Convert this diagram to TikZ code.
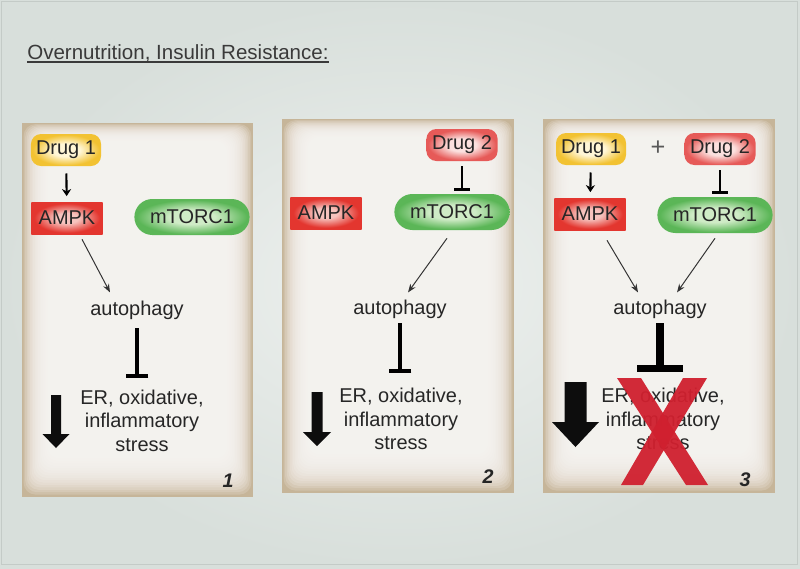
\documentclass[tikz,border=0pt]{standalone}
\usepackage{fontspec}
\setmainfont{Liberation Sans}
\usetikzlibrary{arrows.meta,calc}

\definecolor{bgLight}{HTML}{EEF1EF}
\definecolor{bgDark}{HTML}{D8DFDB}
\definecolor{bgEdge}{HTML}{C4CBC7}
\definecolor{panelCore}{HTML}{F8F7F4}
\definecolor{panelTan}{HTML}{C6B599}
\definecolor{drugYellow}{HTML}{F2C232}
\definecolor{drugYellowIn}{HTML}{FFF6D6}
\definecolor{drugRed}{HTML}{E65A58}
\definecolor{drugRedIn}{HTML}{FBE0DE}
\definecolor{ampkRed}{HTML}{E3362F}
\definecolor{ampkIn}{HTML}{F6C3BE}
\definecolor{mtorGreen}{HTML}{5BB657}
\definecolor{mtorIn}{HTML}{CFEBC6}
\definecolor{crossRed}{HTML}{D0202F}
\definecolor{titleGray}{HTML}{3A3A3A}

\pgfdeclareradialshading{drugoneglow}{\pgfpoint{0bp}{0bp}}{color(0bp)=(drugYellowIn); color(10bp)=(drugYellowIn); color(24bp)=(drugYellow); color(50bp)=(drugYellow)}
\pgfdeclareradialshading{drugtwoglow}{\pgfpoint{0bp}{0bp}}{color(0bp)=(drugRedIn); color(10bp)=(drugRedIn); color(24bp)=(drugRed); color(50bp)=(drugRed)}
\pgfdeclareradialshading{ampkglow}{\pgfpoint{0bp}{0bp}}{color(0bp)=(ampkIn); color(8bp)=(ampkIn); color(23bp)=(ampkRed); color(50bp)=(ampkRed)}
\pgfdeclareradialshading{mtorglow}{\pgfpoint{0bp}{0bp}}{color(0bp)=(mtorIn); color(10bp)=(mtorIn); color(24bp)=(mtorGreen); color(50bp)=(mtorGreen)}

\tikzset{
  box/.style={shade, text=black!85, inner sep=0pt, minimum height=0.8cm},
  drugone/.style={box, rounded corners=0.25cm, minimum width=1.75cm, shading=drugoneglow},
  drugtwo/.style={box, rounded corners=0.25cm, minimum width=1.78cm, shading=drugtwoglow},
  ampk/.style={box, minimum width=1.78cm, shading=ampkglow},
  mtor/.style={box, rounded corners=0.45cm, minimum width=2.88cm, minimum height=0.9cm, shading=mtorglow},
  proc/.style={inner sep=0pt, text=black!85},
  stress/.style={proc, align=center, anchor=north},
  panelno/.style={inner sep=0pt, text=black!85, font=\fontsize{14}{16}\selectfont\bfseries\itshape},
  drive/.style={line width=1.5pt, -{Stealth[length=5pt,width=6.5pt]}, shorten <=0.18cm, shorten >=0.14cm},
  block/.style={line width=1.5pt, -{Bar[width=11pt,line width=2pt]}, shorten <=0.12cm, shorten >=0.08cm},
  act/.style={line width=0.7pt, black!80, -{Stealth[length=6pt,width=4.5pt]}},
  repress/.style={line width=2.8pt, -{Bar[width=16pt]}}
}

\begin{document}
\begin{tikzpicture}[x=0.025cm, y=-0.025cm, font=\fontsize{14.2}{16.7}\selectfont]
  \useasboundingbox (0,0) rectangle (800,568);
  % background
  \shade[inner color=bgLight, outer color=bgDark] (0,0) rectangle (800,568);
  \draw[bgEdge, line width=0.6pt] (1.5,1.5) rectangle (797,564);

  % title
  \node[anchor=base west, inner sep=0pt, text=titleGray, font=\fontsize{14.6}{17}\selectfont] (title) at (27,59) {Overnutrition, Insulin Resistance:};
  \draw[titleGray, line width=0.9pt] ($(title.base west)+(0,3)$) -- ($(title.base east)+(0,3)$);

  % panels: tan frame fading to a light core
  \foreach \xa/\ya/\xb/\yb in {22/123/253/497, 282/119/514/493, 543/119/775/493} {
    \fill[panelTan] (\xa,\ya) rectangle (\xb,\yb);
    \foreach \i in {1,...,16}
      \fill[panelCore, opacity=0.18, rounded corners=0.3cm]
        ($(\xa,\ya)+(1.6*\i,1.1*\i)$) rectangle ($(\xb,\yb)+(-1.6*\i,-2.4*\i)$);
  }

  % panel 1
  \node[drugone] (drugonea) at (66,150) {Drug 1};
  \node[ampk] (ampka) at (67,218) {AMPK};
  \node[mtor] (mtora) at (192,217) {mTORC1};
  \node[proc] (autoa) at (137,310) {autophagy};
  \node[stress] (stressa) at (142,389.5) {ER, oxidative,\\inflammatory\\stress};
  \node[panelno] (numa) at (228,481) {1};
  \draw[drive] (drugonea) -- (ampka);
  \draw[act] ($(ampka.south)+(15,5)$) -- ($(autoa.north)+(-27,-8)$);
  \draw[repress, shorten <=0.22cm, shorten >=0.29cm] (autoa.south) -- (autoa.south |- stressa.north);
  \fill[black!95] (51,395) -- (61,395) -- (61,434) -- (69.5,434) -- (56,448) -- (42.5,434) -- (51,434) -- cycle;

  % panel 2
  \node[drugtwo] (drugtwob) at (462,145) {Drug 2};
  \node[ampk] (ampkb) at (326,213) {AMPK};
  \node[mtor] (mtorb) at (452,212) {mTORC1};
  \node[proc] (autob) at (400,309) {autophagy};
  \node[stress] (stressb) at (401,388) {ER, oxidative,\\inflammatory\\stress};
  \node[panelno] (numb) at (488,477) {2};
  \draw[block] (drugtwob) -- (drugtwob |- mtorb.north);
  \draw[act] ($(mtorb.south)+(-5,8)$) -- ($(autob.north)+(8,-7)$);
  \draw[repress, shorten <=0.12cm, shorten >=0.375cm] (autob.south) -- (autob.south |- stressb.north);
  \fill[black!95] (311.5,392) -- (322.5,392) -- (322.5,432) -- (331,432) -- (317,446) -- (303,432) -- (311.5,432) -- cycle;

  % panel 3
  \node[drugone] (drugonec) at (591,149) {Drug 1};
  \node[proc, text=black!65, font=\fontsize{18}{20}\selectfont] (plus) at (658,148) {+};
  \node[drugtwo] (drugtwoc) at (720,149) {Drug 2};
  \node[ampk] (ampkc) at (590,214) {AMPK};
  \node[mtor] (mtorc) at (715,215) {mTORC1};
  \node[proc] (autoc) at (660,309) {autophagy};
  \node[stress] (stressc) at (663,388) {ER, oxidative,\\inflammatory\\stress};
  \node[panelno] (numc) at (745,480) {3};
  \draw[drive] (drugonec) -- (ampkc);
  \draw[block] (drugtwoc) -- (drugtwoc |- mtorc.north);
  \draw[act] ($(ampkc.south)+(17,10)$) -- ($(autoc.north)+(-22,-7)$);
  \draw[act] ($(mtorc.south)+(0,5)$) -- ($(autoc.north)+(17,-7)$);
  \draw[repress, line width=5pt, -{Bar[width=33pt]}, shorten <=0.12cm, shorten >=0.4cm] (autoc.south) -- (autoc.south |- stressc.north);
  \fill[black!95] (564.5,382) -- (586.5,382) -- (586.5,422) -- (599,422) -- (575.5,447) -- (552,422) -- (564.5,422) -- cycle;
  % red cross over the stress text
  \fill[crossRed, opacity=0.95] (617,378) -- (641,378) -- (708,485) -- (686,485) -- cycle;
  \fill[crossRed, opacity=0.95] (683,378) -- (707,378) -- (643,485) -- (621,485) -- cycle;
\end{tikzpicture}
\end{document}
